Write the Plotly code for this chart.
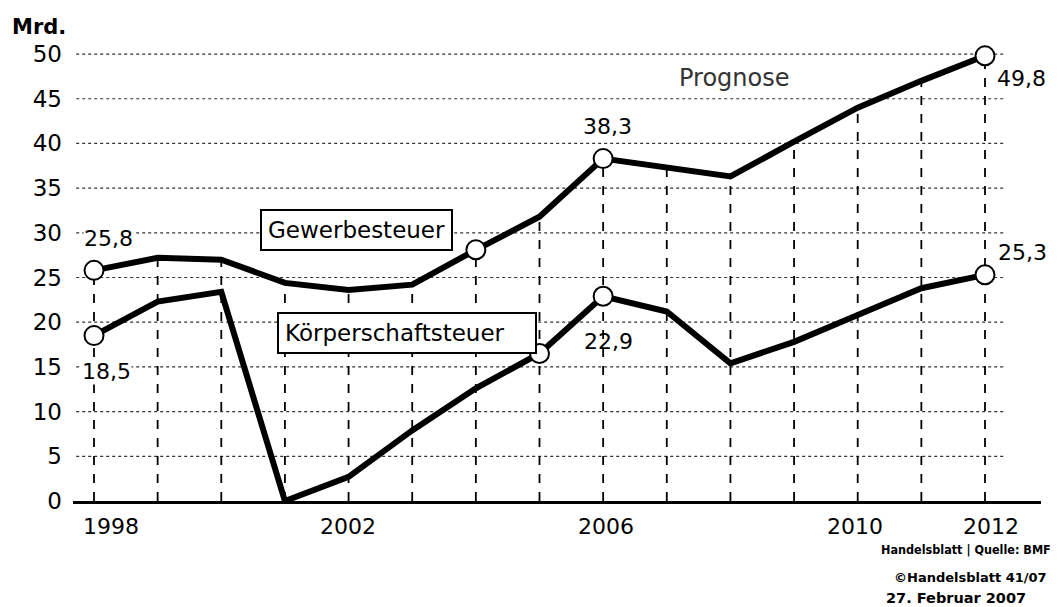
import plotly.graph_objects as go

years = list(range(1998, 2013))
gewerbe = [25.8, 27.2, 27.0, 24.4, 23.6, 24.2, 28.1, 31.8, 38.3, 37.3, 36.3, 40.2, 44.0, 47.0, 49.8]
koerper = [18.5, 22.3, 23.4, 0.0, 2.7, 7.9, 12.6, 16.5, 22.9, 21.2, 15.4, 17.8, 20.8, 23.8, 25.3]
gewerbe_marked = [1998, 2004, 2006, 2012]
koerper_marked = [1998, 2005, 2006, 2012]
y_ticks = [0, 5, 10, 15, 20, 25, 30, 35, 40, 45, 50]
x_label_years = [1998, 2002, 2006, 2010, 2012]
value_labels = [  # (year, series, text)
    (1998, "g", "25,8"), (1998, "k", "18,5"), (2006, "g", "38,3"),
    (2006, "k", "22,9"), (2012, "g", "49,8"), (2012, "k", "25,3"),
]

# style / placement (pixels)
label_shift = {(1998, "g"): (14, 32), (1998, "k"): (12, -36), (2006, "g"): (4, 32),
               (2006, "k"): (5, -45), (2012, "g"): (37, -23), (2012, "k"): (38, 22)}
label_bg = {(1998, "g"): "white", (1998, "k"): "white"}
x_label_shift = {1998: 17, 2002: -1, 2006: 3, 2010: -3, 2012: 6}
FONT = "DejaVu Sans"

series = {"g": dict(zip(years, gewerbe)), "k": dict(zip(years, koerper))}

fig = go.Figure()

# horizontal dashed gridlines
for t in y_ticks[1:]:
    fig.add_shape(type="line", xref="x", yref="y", x0=1997.72, x1=2012.3, y0=t, y1=t,
                  line=dict(color="#333", width=1.2, dash="dot"), layer="below")

# vertical dashed lines from 0 up to the upper series
vx, vy = [], []
for yr, g in zip(years, gewerbe):
    vx += [yr, yr, None]
    vy += [0, g, None]
fig.add_trace(go.Scatter(x=vx, y=vy, mode="lines", line=dict(color="black", width=1.8, dash="dash"),
                         hoverinfo="skip", showlegend=False))

for key, vals, marked in (("g", gewerbe, gewerbe_marked), ("k", koerper, koerper_marked)):
    fig.add_trace(go.Scatter(x=years, y=vals, mode="lines", line=dict(color="black", width=6),
                             showlegend=False, cliponaxis=False))
    fig.add_trace(go.Scatter(x=marked, y=[series[key][m] for m in marked], mode="markers",
                             marker=dict(size=19, color="white", line=dict(color="black", width=2)),
                             showlegend=False, cliponaxis=False))

for yr, key, txt in value_labels:
    dx, dy = label_shift[(yr, key)]
    fig.add_annotation(x=yr, y=series[key][yr], text=txt, showarrow=False, xshift=dx, yshift=dy,
                       bgcolor=label_bg.get((yr, key), "rgba(0,0,0,0)"), borderpad=0,
                       font=dict(family=FONT, size=22, color="black"))

for yr in x_label_years:
    fig.add_annotation(x=yr, y=0, text=str(yr), showarrow=False, xshift=x_label_shift[yr], yshift=-25,
                       font=dict(family=FONT, size=22, color="black"))

fig.add_annotation(x=2002.12, y=30.3, text="Gewerbesteuer", showarrow=False,
                   font=dict(family=FONT, size=23, color="black"), bgcolor="white",
                   bordercolor="black", borderwidth=2, borderpad=6)
fig.add_annotation(x=2002.92, y=18.8, text="Körperschaftsteuer", showarrow=False, width=244, align="left",
                   font=dict(family=FONT, size=23, color="black"), bgcolor="white",
                   bordercolor="black", borderwidth=2, borderpad=6)
fig.add_annotation(x=2008.06, y=47.3, text="Prognose", showarrow=False,
                   font=dict(family=FONT, size=24, color="#333"))

fig.add_annotation(xref="paper", yref="paper", x=-0.065, y=0.998, xanchor="left", yanchor="bottom",
                   text="<b>Mrd.</b>", showarrow=False, font=dict(family=FONT, size=21, color="black"))

fig.add_annotation(xref="paper", yref="paper", x=0.833, y=-0.106, xanchor="left", yanchor="middle",
                   text="<b>Handelsblatt | Quelle: BMF</b>", showarrow=False,
                   font=dict(family="Liberation Sans Narrow, DejaVu Sans Condensed", size=12.5, color="black"))
fig.add_annotation(xref="paper", yref="paper", x=0.846, y=-0.165, xanchor="left", yanchor="middle",
                   text="<b>©Handelsblatt 41/07</b>", showarrow=False,
                   font=dict(family=FONT, size=13, color="black"))
fig.add_annotation(xref="paper", yref="paper", x=0.838, y=-0.21, xanchor="left", yanchor="middle",
                   text="<b>27. Februar 2007</b>", showarrow=False,
                   font=dict(family=FONT, size=14.5, color="black"))

fig.update_xaxes(range=[1997.67, 2012.88], showgrid=False, zeroline=False, showticklabels=False,
                 showline=True, linecolor="black", linewidth=3, ticks="")
fig.update_yaxes(range=[0, 51.57], tickvals=y_ticks, showgrid=False, zeroline=False, showline=False,
                 ticks="", ticklabelstandoff=10, tickfont=dict(family=FONT, size=23, color="black"))
# the page body adds an 8px offset, so the figure is 8px smaller on each axis
fig.update_layout(width=1050, height=599, margin=dict(l=65, r=17, t=32, b=106),
                  plot_bgcolor="white", paper_bgcolor="white", showlegend=False)

fig.write_html("out.html")
